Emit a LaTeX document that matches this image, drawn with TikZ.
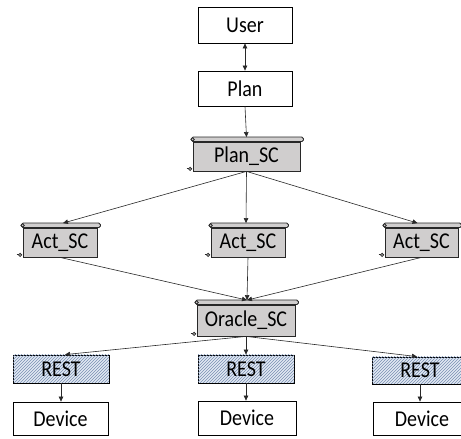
\documentclass[tikz,border=0pt]{standalone}
\usepackage{fontspec}
\setmainfont{Carlito}
\usepackage{graphicx}
\usetikzlibrary{arrows.meta,patterns}
\definecolor{scrollgray}{RGB}{208,206,206}
\definecolor{restfill}{RGB}{226,233,243}
\definecolor{resthatch}{RGB}{120,142,178}
\definecolor{linegray}{RGB}{40,40,40}
\newcommand{\stx}[1]{\scalebox{1}[1.13]{#1}}
\newcommand{\scrolldeco}[1]{%
  \draw[scrollline, fill=scrollgray, rounded corners=1.5pt] ([xshift=-1pt]#1.north west) rectangle ([xshift=3pt,yshift=4.5pt]#1.north east);
  \draw[scrollline, fill=scrollgray] ([yshift=2.2pt]#1.north west) circle (1.7pt);
  \draw[scrollline] ([xshift=-6pt,yshift=2.5pt]#1.south west) -- ([xshift=-1pt,yshift=2.5pt]#1.south west);
  \draw[scrollline, fill=scrollgray] ([xshift=-2.5pt,yshift=2.5pt]#1.south west) circle (1.6pt);
}
\begin{document}
\begin{tikzpicture}[x=1pt,y=1pt,
  every node/.style={font=\fontsize{20}{22}\selectfont, inner sep=0pt},
  plainbox/.style={draw=black, line width=0.8pt, fill=white, minimum height=35pt},
  scrollline/.style={draw=linegray, line width=0.8pt},
  scrollbox/.style={draw=linegray, line width=0.8pt, fill=scrollgray, minimum height=29pt},
  restbox/.style={draw=black, line width=0.8pt, fill=restfill, postaction={pattern=north east lines, pattern color=resthatch}, minimum height=28pt, minimum width=96pt},
  conn/.style={draw=linegray, line width=0.6pt, -{Triangle[length=5pt,width=4.5pt]}},
]
\useasboundingbox (0,0) rectangle (461,439);
\fill[white] (0,0) rectangle (461,439);

% top boxes
\node[plainbox, minimum width=94pt, minimum height=36pt] (user) at (245,414) {\stx{User}};
\node[plainbox, minimum width=94pt] (plan) at (245,350.5) {\stx{Plan}};

% scrolls
\node[scrollbox, minimum width=107pt] (plansc) at (246.5,282.5) {\stx{Plan\_SC}};
\scrolldeco{plansc}
\node[scrollbox, minimum width=74pt] (actl) at (60,196.5) {\stx{Act\_SC}};
\scrolldeco{actl}
\node[scrollbox, minimum width=74pt] (actm) at (248,196.5) {\stx{Act\_SC}};
\scrolldeco{actm}
\node[scrollbox, minimum width=73pt] (actr) at (421.5,196.5) {\stx{Act\_SC}};
\scrolldeco{actr}
\node[scrollbox, minimum width=98pt, minimum height=31pt] (oracle) at (246,118.5) {\stx{Oracle\_SC}};
\scrolldeco{oracle}

\coordinate (plansctop) at ([yshift=4.5pt]plansc.north);
\coordinate (actltop) at ([xshift=3pt,yshift=4.5pt]actl.north);
\coordinate (actmtop) at ([xshift=-2pt,yshift=4.5pt]actm.north);
\coordinate (actrtop) at ([xshift=-4pt,yshift=4.5pt]actr.north);
\coordinate (oracletop) at ([xshift=1pt,yshift=4.5pt]oracle.north);

% REST boxes
\node[restbox] (restl) at (61,70) {\stx{REST}};
\node[restbox] (restm) at (246,70) {\stx{REST}};
\node[restbox, minimum height=27pt] (restr) at (420,68.5) {\stx{REST}};

% devices
\node[plainbox, minimum width=95pt, minimum height=33pt] (devl) at (60.5,20.5) {\stx{Device}};
\node[plainbox, minimum width=98pt, minimum height=34pt] (devm) at (247,21) {\stx{Device}};
\node[plainbox, minimum width=98pt, minimum height=33pt] (devr) at (422,20.5) {\stx{Device}};

% connectors
\draw[conn, {Triangle[length=5pt,width=4.5pt]}-{Triangle[length=5pt,width=4.5pt]}] (user.south) -- (plan.north);
\draw[conn] (plan.south) -- (plansctop);
\draw[conn] (plansc.south) -- (actltop);
\draw[conn] (plansc.south) -- (actmtop);
\draw[conn] (plansc.south) -- (actrtop);
\draw[conn] (actl.south) -- (oracletop);
\draw[conn] (actm.south) -- (oracletop);
\draw[conn] (actr.south) -- (oracletop);
\draw[conn] (oracle.south) -- ([xshift=4pt]restl.north);
\draw[conn] (oracle.south) -- (restm.north);
\draw[conn] (oracle.south) -- ([xshift=-3pt]restr.north);
\draw[conn] (restl.south) -- (devl.north -| restl.south);
\draw[conn] (restm.south) -- (devm.north -| restm.south);
\draw[conn] (restr.south) -- (devr.north -| restr.south);
\end{tikzpicture}
\end{document}
